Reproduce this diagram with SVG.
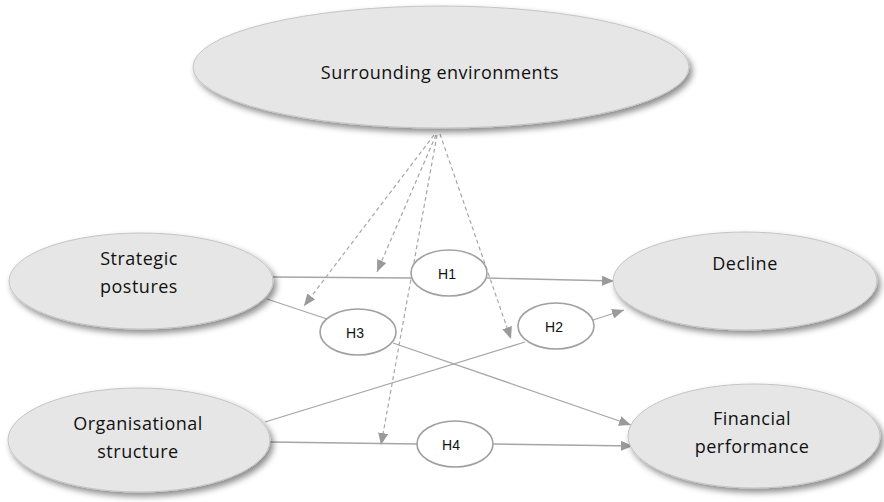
<svg xmlns="http://www.w3.org/2000/svg" width="884" height="502" viewBox="0 0 884 502">
<defs>
<filter id="sh" x="-20%" y="-20%" width="150%" height="160%">
<feDropShadow dx="3" dy="4" stdDeviation="3" flood-color="#000" flood-opacity="0.45"/>
</filter>
<marker id="ah" viewBox="0 0 12 10" refX="12" refY="5" markerWidth="12" markerHeight="10" markerUnits="userSpaceOnUse" orient="auto">
<path d="M0,0 L12,5 L0,10 Z" fill="#9a9a9a"/>
</marker>
</defs>
<style>
.big{fill:#e6e6e6;stroke:#c4c4c4;stroke-width:1;filter:url(#sh)}
.hyp{fill:#fff;stroke:#a0a0a0;stroke-width:1.6}
.t{font-family:"Open Sans","Liberation Sans",sans-serif;font-size:18px;letter-spacing:0.5px;fill:#111;text-anchor:middle}
.h{font-family:"Liberation Sans",Arial,sans-serif;font-size:14px;fill:#111;text-anchor:middle}
.ln{stroke:#a6a6a6;stroke-width:1.3;fill:none}
.ds{stroke:#a6a6a6;stroke-width:1.2;stroke-dasharray:4,3;fill:none}
</style>
<g id="connectors">
<line class="ln" x1="273" y1="277" x2="411" y2="278"/>
<line class="ln" x1="487" y1="278" x2="614" y2="281" marker-end="url(#ah)"/>
<line class="ln" x1="267" y1="299" x2="327" y2="319"/>
<line class="ln" x1="393" y1="343" x2="631" y2="425" marker-end="url(#ah)"/>
<line class="ln" x1="265" y1="422" x2="525" y2="342"/>
<line class="ln" x1="593" y1="320" x2="624" y2="310" marker-end="url(#ah)"/>
<line class="ln" x1="270" y1="442" x2="417" y2="444"/>
<line class="ln" x1="492" y1="444" x2="633" y2="446" marker-end="url(#ah)"/>
<line class="ds" x1="434" y1="135" x2="304" y2="306" marker-end="url(#ah)"/>
<line class="ds" x1="436" y1="135" x2="377" y2="272" marker-end="url(#ah)"/>
<line class="ds" x1="437" y1="135" x2="381" y2="445" marker-end="url(#ah)"/>
<line class="ds" x1="440" y1="134" x2="511" y2="339" marker-end="url(#ah)"/>
</g>
<g id="env">
<ellipse class="big" cx="441" cy="67" rx="248" ry="61"/>
<text class="t" x="440" y="79" font-size="19.5" letter-spacing="0">Surrounding environments</text>
</g>
<g id="strategic">
<ellipse class="big" cx="141" cy="281" rx="132" ry="48"/>
<text class="t" x="139" y="265">Strategic</text>
<text class="t" x="139" y="293">postures</text>
</g>
<g id="decline">
<ellipse class="big" cx="745" cy="281" rx="132" ry="49"/>
<text class="t" x="745" y="270">Decline</text>
</g>
<g id="organisational">
<ellipse class="big" cx="139" cy="440" rx="131" ry="52"/>
<text class="t" x="138" y="430">Organisational</text>
<text class="t" x="138" y="458">structure</text>
</g>
<g id="financial">
<ellipse class="big" cx="754" cy="436" rx="126" ry="52"/>
<text class="t" x="752" y="425">Financial</text>
<text class="t" x="752" y="453">performance</text>
</g>
<g id="H1">
<ellipse class="hyp" cx="449" cy="273" rx="38" ry="23"/>
<text class="h" x="447" y="279">H1</text>
</g>
<g id="H2">
<ellipse class="hyp" cx="556" cy="326" rx="38" ry="23"/>
<text class="h" x="554" y="332">H2</text>
</g>
<g id="H3">
<ellipse class="hyp" cx="358" cy="332" rx="38" ry="23"/>
<text class="h" x="355" y="338">H3</text>
</g>
<g id="H4">
<ellipse class="hyp" cx="455" cy="444" rx="38" ry="23"/>
<text class="h" x="451" y="450">H4</text>
</g>
</svg>
